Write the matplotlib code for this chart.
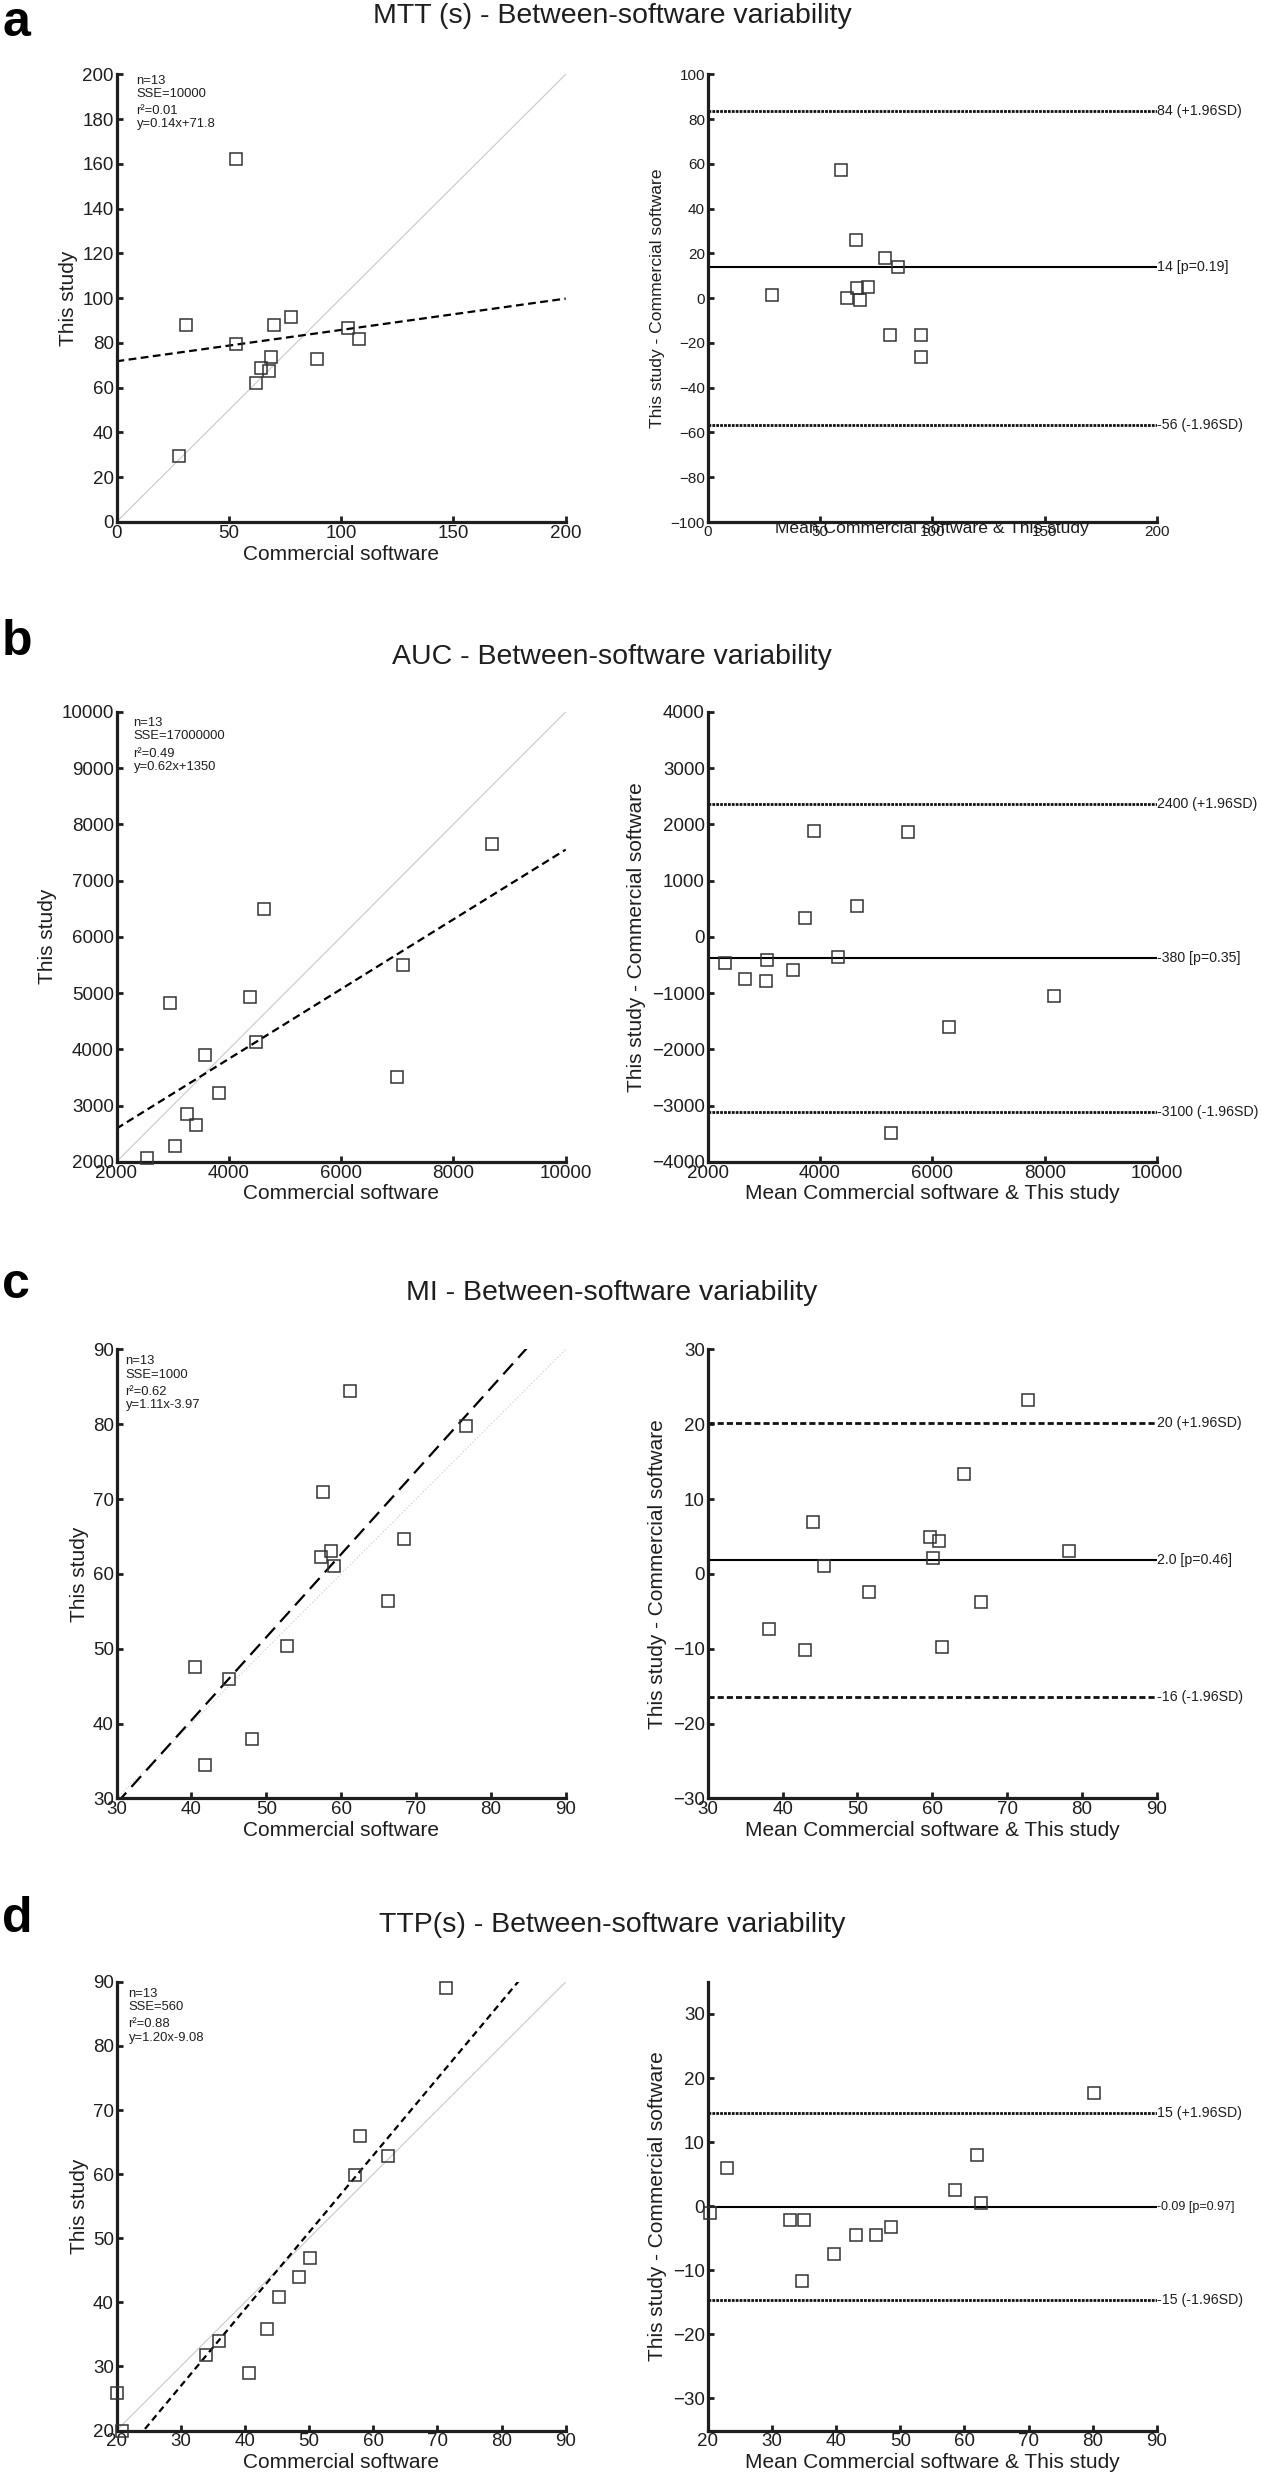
import numpy as np
import matplotlib
matplotlib.use("Agg")
import matplotlib.pyplot as plt

plt.rcParams['font.family'] = ['Liberation Sans', 'DejaVu Sans']

# ---- values ----
# a: MTT (s)
mtt_commercial = [53.1, 30.8, 53.1, 27.7, 70.1, 77.6, 103.2, 107.9, 89.3, 68.7, 64.2, 68.0, 61.9]
mtt_this = [162.0, 88.2, 79.3, 29.3, 87.9, 91.4, 86.8, 81.7, 72.9, 73.8, 68.9, 67.3, 61.9]
mtt_fit = (0.14, 71.8)
mtt_stats = ["n=13", "SSE=10000", "r²=0.01", "y=0.14x+71.8"]
mtt_limits = [83.7, 13.7, -56.6]
mtt_limit_labels = ["84 (+1.96SD)", "14 [p=0.19]", "-56 (-1.96SD)"]

# b: AUC
auc_commercial = [8691, 4626, 7102, 2945, 4383, 4490, 3574, 7002, 3818, 3259, 3424, 3045, 2544]
auc_this = [7645, 6492, 5494, 4826, 4924, 4137, 3905, 3511, 3230, 2851, 2647, 2288, 2070]
auc_fit = (0.62, 1350)
auc_stats = ["n=13", "SSE=17000000", "r²=0.49", "y=0.62x+1350"]
auc_limits = [2360, -380, -3120]
auc_limit_labels = ["2400 (+1.96SD)", "-380 [p=0.35]", "-3100 (-1.96SD)"]

# c: MI
mi_commercial = [61.2, 76.7, 57.6, 68.4, 58.7, 57.3, 59.0, 66.2, 52.8, 40.5, 45.0, 48.1, 41.8]
mi_this = [84.4, 79.7, 70.9, 64.6, 63.1, 62.2, 61.1, 56.4, 50.4, 47.5, 46.0, 37.9, 34.5]
mi_fit = (1.11, -3.97)
mi_stats = ["n=13", "SSE=1000", "r²=0.62", "y=1.11x-3.97"]
mi_limits = [20.2, 1.9, -16.4]
mi_limit_labels = ["20 (+1.96SD)", "2.0 [p=0.46]", "-16 (-1.96SD)"]

# d: TTP (s)
ttp_commercial = [71.3, 57.9, 62.3, 57.2, 50.2, 48.4, 45.4, 43.4, 36.0, 33.9, 40.6, 20.0, 20.9]
ttp_this = [89.0, 65.9, 62.8, 59.8, 46.9, 43.9, 40.9, 35.9, 33.9, 31.8, 28.9, 25.9, 19.9]
ttp_fit = (1.20, -9.08)
ttp_stats = ["n=13", "SSE=560", "r²=0.88", "y=1.20x-9.08"]
ttp_limits = [14.6, -0.09, -14.7]
ttp_limit_labels = ["15 (+1.96SD)", "-0.09 [p=0.97]", "-15 (-1.96SD)"]

panels = [
    dict(letter="a", title="MTT (s) - Between-software variability",
         x=mtt_commercial, y=mtt_this, fit=mtt_fit, stats=mtt_stats,
         lim=(0, 200), ticks=np.arange(0, 201, 20), xticks=np.arange(0, 201, 50),
         ba_xlim=(0, 200), ba_xticks=np.arange(0, 201, 50),
         ba_ylim=(-100, 100), ba_yticks=np.arange(-100, 101, 20),
         limits=mtt_limits, limit_labels=mtt_limit_labels,
         ident_ls='-', fit_ls=(0, (3.5, 2)), lim_ls=(0, (1, 0.4)),
         top=74.3, bottom=522, title_y=23, letter_y=36, stat_dy=[7, 19.5, 36.5, 50], stat_dx=20),
    dict(letter="b", title="AUC - Between-software variability",
         x=auc_commercial, y=auc_this, fit=auc_fit, stats=auc_stats,
         lim=(2000, 10000), ticks=np.arange(2000, 10001, 1000), xticks=np.arange(2000, 10001, 2000),
         ba_xlim=(2000, 10000), ba_xticks=np.arange(2000, 10001, 2000),
         ba_ylim=(-4000, 4000), ba_yticks=np.arange(-4000, 4001, 1000),
         limits=auc_limits, limit_labels=auc_limit_labels,
         ident_ls='-', fit_ls=(0, (3.5, 2)), lim_ls=(0, (1, 0.4)),
         top=711.8, bottom=1161.8, title_y=663.6, letter_y=655, stat_dy=[11, 24, 42, 55], stat_dx=17),
    dict(letter="c", title="MI - Between-software variability",
         x=mi_commercial, y=mi_this, fit=mi_fit, stats=mi_stats,
         lim=(30, 90), ticks=np.arange(30, 91, 10), xticks=np.arange(30, 91, 10),
         ba_xlim=(30, 90), ba_xticks=np.arange(30, 91, 10),
         ba_ylim=(-30, 30), ba_yticks=np.arange(-30, 31, 10),
         limits=mi_limits, limit_labels=mi_limit_labels,
         ident_ls=(0, (1, 2)), fit_ls=(0, (6.5, 3.5)), lim_ls=(0, (2.2, 1.1)),
         top=1349.4, bottom=1798.4, title_y=1300, letter_y=1298, stat_dy=[12, 25.5, 42.5, 56], stat_dx=9),
    dict(letter="d", title="TTP(s) - Between-software variability",
         x=ttp_commercial, y=ttp_this, fit=ttp_fit, stats=ttp_stats,
         lim=(20, 90), ticks=np.arange(20, 91, 10), xticks=np.arange(20, 91, 10),
         ba_xlim=(20, 90), ba_xticks=np.arange(20, 91, 10),
         ba_ylim=(-35, 35), ba_yticks=np.arange(-30, 31, 10),
         limits=ttp_limits, limit_labels=ttp_limit_labels,
         ident_ls='-', fit_ls=(0, (3, 2)), lim_ls=(0, (1, 0.4)),
         top=1981.9, bottom=2430.5, title_y=1931.7, letter_y=1932, stat_dy=[12, 25, 42.5, 56], stat_dx=12),
]

FIG_W, FIG_H = 1261, 2481
fig = plt.figure(figsize=(FIG_W / 100, FIG_H / 100), dpi=100)
INK = '#1e1e1e'


def rect(x0, top, x1, bottom):
    return [x0 / FIG_W, 1 - bottom / FIG_H, (x1 - x0) / FIG_W, (bottom - top) / FIG_H]


def style_axes(ax, tick_fs):
    for s in ['top', 'right']:
        ax.spines[s].set_visible(False)
    for s in ['left', 'bottom']:
        ax.spines[s].set_linewidth(2.3)
        ax.spines[s].set_color(INK)
    ax.tick_params(direction='in', length=4.5, width=2, labelsize=tick_fs,
                   pad=2, color=INK, labelcolor=INK)
    ax.set_facecolor('none')


marker_kw = dict(ls='none', marker='s', ms=8.8, mfc='none', mec='#333333', mew=1.1,
                 clip_on=False, zorder=4)

for p in panels:
    small = p["letter"] == "a"
    fig.text(2 / FIG_W, 1 - p["letter_y"] / FIG_H, p["letter"], fontsize=36,
             fontweight='bold', ha='left', va='baseline', color='black')
    fig.text(612 / FIG_W, 1 - p["title_y"] / FIG_H, p["title"], fontsize=20.5,
             ha='center', va='baseline', color=INK)

    # scatter with regression
    ax = fig.add_axes(rect(116.5, p["top"], 565.7, p["bottom"]))
    style_axes(ax, 13.5)
    lo, hi = p["lim"]
    ax.plot([lo, hi], [lo, hi], color='#c8c8c8', lw=0.8, ls=p["ident_ls"], zorder=1)
    xs = np.array([lo, hi])
    slope, icpt = p["fit"]
    ax.plot(xs, slope * xs + icpt, color='black', lw=1.6, ls=p["fit_ls"], zorder=2)
    ax.plot(p["x"], p["y"], **marker_kw)
    ax.set_xlim(lo, hi)
    ax.set_ylim(lo, hi)
    ax.set_xticks(p["xticks"])
    ax.set_yticks(p["ticks"])
    ax.set_xlabel("Commercial software", fontsize=15, labelpad=2, color=INK)
    ax.set_ylabel("This study", fontsize=15, labelpad=3, color=INK)
    for txt, dy in zip(p["stats"], p["stat_dy"]):
        ax.annotate(txt, xy=(0, 1), xycoords='axes fraction',
                    xytext=(p["stat_dx"] * 0.72, -dy * 0.72), textcoords='offset points',
                    fontsize=9.4, va='center', ha='left', color=INK)

    # Bland-Altman
    bx = fig.add_axes(rect(707.7, p["top"], 1157, p["bottom"]))
    style_axes(bx, 11 if small else 13.5)
    x = np.array(p["x"])
    y = np.array(p["y"])
    mean = (x + y) / 2
    diff = y - x
    bxl, bxh = p["ba_xlim"]
    byl, byh = p["ba_ylim"]
    keep = (mean >= bxl) & (mean <= bxh) & (diff >= byl) & (diff <= byh)
    bx.plot(mean[keep], diff[keep], **marker_kw)
    for i, (val, lab) in enumerate(zip(p["limits"], p["limit_labels"])):
        if i == 1:
            bx.plot([bxl, bxh], [val, val], color='black', lw=1.5, ls='-', zorder=2)
            fs = 9 if p["letter"] == "d" else 10.2
        else:
            bx.plot([bxl, bxh], [val, val], color='#111111', lw=2.0, ls=p["lim_ls"], zorder=2)
            fs = 10.2
        bx.text(bxh, val, lab, fontsize=fs, ha='left', va='center', color=INK,
                clip_on=False)
    bx.set_xlim(bxl, bxh)
    bx.set_ylim(byl, byh)
    bx.set_xticks(p["ba_xticks"])
    bx.set_yticks(p["ba_yticks"])
    lab_fs = 12.6 if small else 15
    # panel a: the reference draws this label over its tick labels
    bx.set_xlabel("Mean Commercial software & This study", fontsize=lab_fs,
                  labelpad=-13 if small else 2, color=INK)
    bx.set_ylabel("This study - Commercial software", fontsize=lab_fs, labelpad=4, color=INK)

fig.savefig("out.png", dpi=100)
